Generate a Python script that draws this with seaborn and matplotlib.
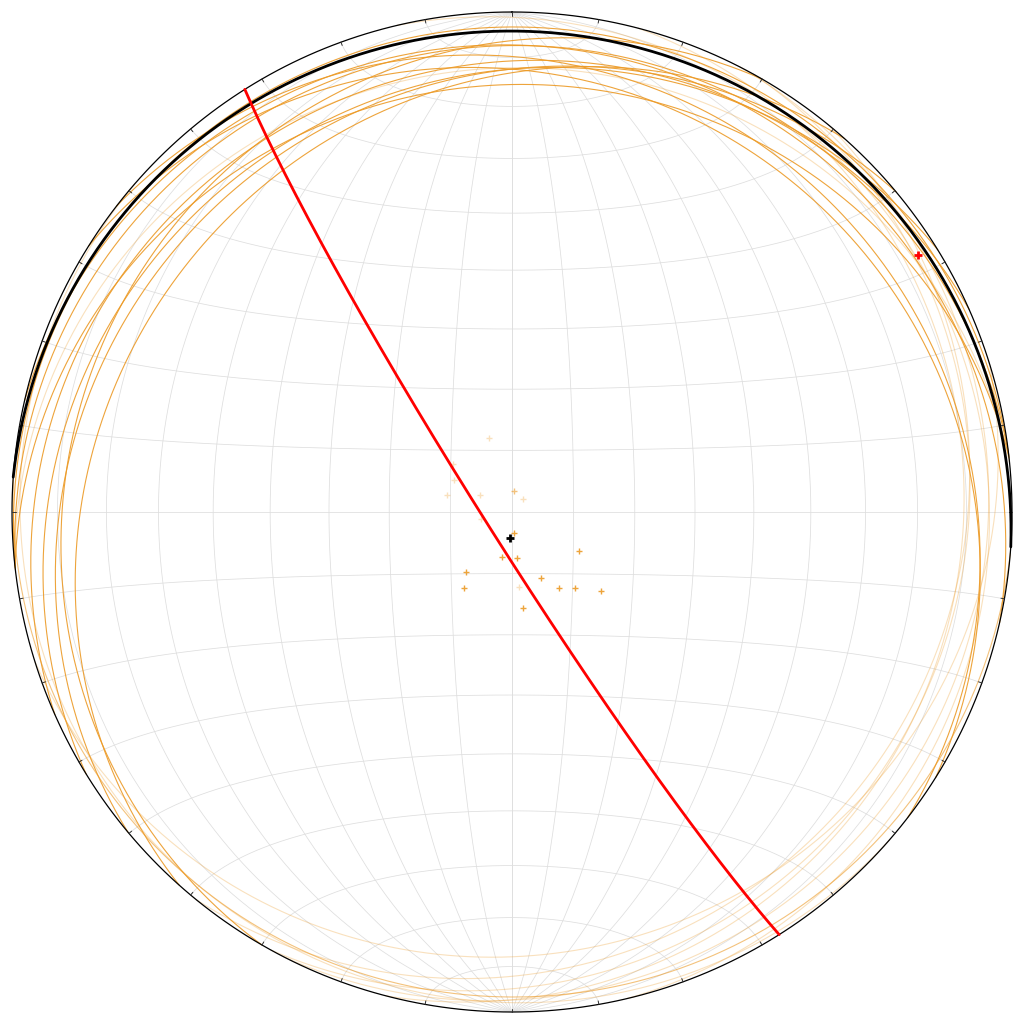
import numpy as np
import matplotlib
matplotlib.use("Agg")
import matplotlib.pyplot as plt
import seaborn as sns

# poles to measured planes (trend, plunge in degrees), lower hemisphere
pole_trend = [342.6, 309.2, 298.8, 284.6, 297.1, 4.7, 41.0, 256.7, 173.8, 192.8,
              173.4, 120.0, 217.7, 156.1, 212.1, 148.4, 140.2, 131.7, 174.4, 173.6]
pole_plunge = [77.4, 77.6, 79.3, 79.1, 84.1, 86.6, 87.2, 84.8, 86.6, 82.5,
               82.5, 77.4, 77.7, 78.3, 75.4, 75.5, 74.0, 70.6, 77.8, 74.3]
pole_weight = ['low', 'low', 'low', 'low', 'low', 'mid', 'low', 'low', 'high', 'high',
               'high', 'high', 'high', 'high', 'high', 'high', 'high', 'high', 'low', 'high']

# mean pole (black) and best-fit girdle pole (red)
mean_trend, mean_plunge = 184.0, 85.7
fit_trend, fit_plunge = 57.7, 4.4

sns.set_style("white")

R = 500.0
alpha_map = {'low': 0.3, 'mid': 0.6, 'high': 0.9}
orange = '#EC9A26'


def project(v):
    # lower hemisphere equal-area (Schmidt), v = (east, north, down)
    e, n, d = v
    return R * e / np.sqrt(1 + d), R * n / np.sqrt(1 + d)


def line_vec(trend, plunge):
    t, p = np.radians(trend), np.radians(plunge)
    return np.array([np.cos(p) * np.sin(t), np.cos(p) * np.cos(t), np.sin(p)])


def plane_from_pole(trend, plunge):
    strike = (trend + 90) % 360
    dip = 90 - plunge
    return strike, dip


def great_circle(strike, dip):
    th = np.linspace(0, np.pi, 400)
    s = np.radians(strike)
    dd = np.radians(strike + 90)
    dp = np.radians(dip)
    sv = np.array([np.sin(s), np.cos(s), 0.0])
    dv = np.array([np.cos(dp) * np.sin(dd), np.cos(dp) * np.cos(dd), np.sin(dp)])
    v = np.outer(sv, np.cos(th)) + np.outer(dv, np.sin(th))
    return project(v)


def small_circle_ns(alpha):
    ph = np.linspace(0, np.pi, 400)
    a = np.radians(alpha)
    v = np.array([np.sin(a) * np.cos(ph), np.full_like(ph, np.cos(a)), np.sin(a) * np.sin(ph)])
    return project(v)


fig = plt.figure(figsize=(10.24, 10.24), dpi=100)
ax = fig.add_axes([0, 0, 1, 1])
ax.set_xlim(-512, 512)
ax.set_ylim(-512, 512)
ax.set_aspect('equal')
ax.axis('off')

# grid
for d in range(10, 100, 10):
    for st in (0, 180):
        x, y = great_circle(st, d)
        ax.plot(x, y, color='0.87', lw=0.55, zorder=1)
for a in range(10, 180, 10):
    x, y = small_circle_ns(a)
    ax.plot(x, y, color='0.87', lw=0.55, zorder=1)

# primitive and ticks
t = np.linspace(0, 2 * np.pi, 721)
ax.plot(R * np.sin(t), R * np.cos(t), color='black', lw=0.9, zorder=5)
for az in np.radians(np.arange(0, 360, 10)):
    ax.plot([R * np.sin(az), (R - 3.5) * np.sin(az)], [R * np.cos(az), (R - 3.5) * np.cos(az)],
            color='0.2', lw=0.7, zorder=5)

# measured planes and poles
for tr, pl, w in zip(pole_trend, pole_plunge, pole_weight):
    st, dp = plane_from_pole(tr, pl)
    x, y = great_circle(st, dp)
    ax.plot(x, y, color=orange, lw=0.8, alpha=alpha_map[w], zorder=2)
    px, py = project(line_vec(tr, pl))
    ax.plot(px, py, '+', color=orange, ms=5, mew=1.0, alpha=alpha_map[w], zorder=3)

# mean plane
st, dp = plane_from_pole(mean_trend, mean_plunge)
x, y = great_circle(st, dp)
ax.plot(x, y, color='black', lw=2, zorder=6)
px, py = project(line_vec(mean_trend, mean_plunge))
ax.plot(px, py, '+', color='black', ms=6, mew=2, zorder=7)

# best-fit girdle
st, dp = plane_from_pole(fit_trend, fit_plunge)
x, y = great_circle(st, dp)
ax.plot(x, y, color='red', lw=2, zorder=6)
px, py = project(line_vec(fit_trend, fit_plunge))
ax.plot(px, py, '+', color='red', ms=6, mew=2, zorder=7)

fig.savefig('out.png', dpi=100)
